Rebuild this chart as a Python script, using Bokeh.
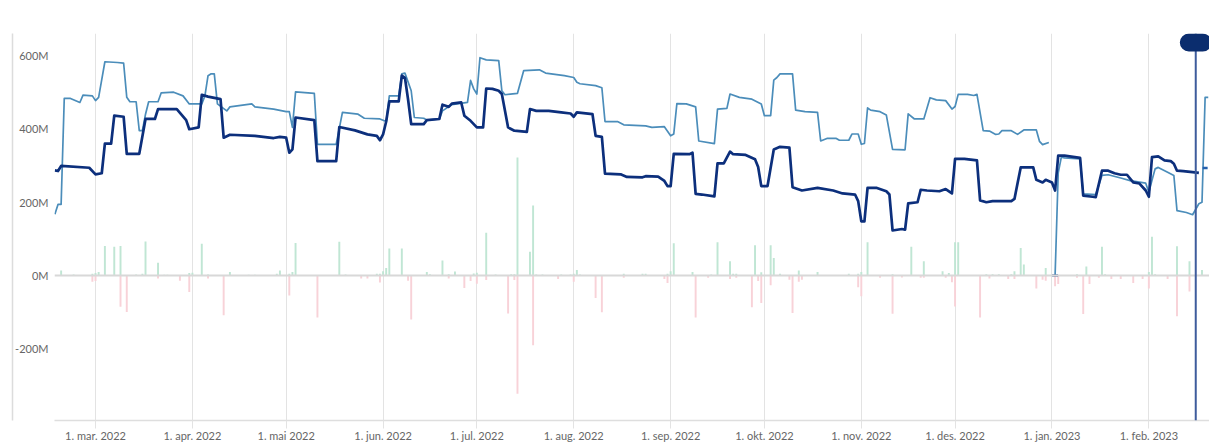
import numpy as np
import pandas as pd
from datetime import datetime, timedelta
from bokeh.plotting import figure
from bokeh.models import (Range1d, FixedTicker, PrintfTickFormatter, Span,
                          BoxAnnotation, ColumnDataSource, LinearAxis)
from bokeh.embed import file_html
from bokeh.resources import INLINE

# ---------------- data (values in millions) ----------------
month_dates = ["2022-03-01", "2022-04-01", "2022-05-01", "2022-06-01", "2022-07-01", "2022-08-01",
               "2022-09-01", "2022-10-01", "2022-11-01", "2022-12-01", "2023-01-01", "2023-02-01"]
month_labels = ["1. mar. 2022", "1. apr. 2022", "1. mai 2022", "1. jun. 2022", "1. jul. 2022",
                "1. aug. 2022", "1. sep. 2022", "1. okt. 2022", "1. nov. 2022", "1. des. 2022",
                "1. jan. 2023", "1. feb. 2023"]
y_ticks = [-200, 0, 200, 400, 600]

light_dates = [
    "2022-02-16", "2022-02-17", "2022-02-18", "2022-02-19", "2022-02-21", "2022-02-24", "2022-02-25", "2022-02-28",
    "2022-03-01", "2022-03-02", "2022-03-04", "2022-03-08", "2022-03-10", "2022-03-11", "2022-03-12", "2022-03-14",
    "2022-03-15", "2022-03-16", "2022-03-17", "2022-03-18", "2022-03-21", "2022-03-22", "2022-03-26", "2022-03-29", "2022-03-31",
    "2022-04-04", "2022-04-05", "2022-04-06", "2022-04-07", "2022-04-08", "2022-04-09", "2022-04-12", "2022-04-13",
    "2022-04-20", "2022-04-21", "2022-04-27",
    "2022-05-01", "2022-05-02", "2022-05-03", "2022-05-04", "2022-05-10", "2022-05-11", "2022-05-17", "2022-05-19",
    "2022-05-24", "2022-05-26", "2022-05-31",
    "2022-06-02", "2022-06-03", "2022-06-06", "2022-06-07", "2022-06-08", "2022-06-10", "2022-06-11", "2022-06-14",
    "2022-06-15", "2022-06-19", "2022-06-20", "2022-06-23", "2022-06-28", "2022-06-29", "2022-06-30",
    "2022-07-01", "2022-07-02", "2022-07-04", "2022-07-08", "2022-07-09", "2022-07-10", "2022-07-14", "2022-07-16",
    "2022-07-21", "2022-07-23", "2022-07-29",
    "2022-08-01", "2022-08-02", "2022-08-03", "2022-08-08", "2022-08-10", "2022-08-11", "2022-08-15", "2022-08-17",
    "2022-08-24", "2022-08-26", "2022-08-30",
    "2022-09-01", "2022-09-02", "2022-09-03", "2022-09-06", "2022-09-09", "2022-09-10", "2022-09-15", "2022-09-16",
    "2022-09-19", "2022-09-20", "2022-09-23", "2022-09-27", "2022-09-30",
    "2022-10-01", "2022-10-03", "2022-10-04", "2022-10-05", "2022-10-06", "2022-10-10", "2022-10-11", "2022-10-14",
    "2022-10-18", "2022-10-19", "2022-10-21", "2022-10-24", "2022-10-25", "2022-10-28", "2022-10-29", "2022-10-31",
    "2022-11-01", "2022-11-02", "2022-11-03", "2022-11-04", "2022-11-07", "2022-11-09", "2022-11-11", "2022-11-15",
    "2022-11-16", "2022-11-18", "2022-11-21", "2022-11-23", "2022-11-25", "2022-11-28", "2022-11-30",
    "2022-12-01", "2022-12-02", "2022-12-05", "2022-12-07", "2022-12-08", "2022-12-10", "2022-12-12", "2022-12-14",
    "2022-12-15", "2022-12-16", "2022-12-19", "2022-12-21", "2022-12-23", "2022-12-27", "2022-12-28", "2022-12-29", "2022-12-31",
    "2023-01-01",
    "2023-01-02", "2023-01-03", "2023-01-04", "2023-01-05", "2023-01-10", "2023-01-11", "2023-01-15", "2023-01-17",
    "2023-01-19", "2023-01-23", "2023-01-26", "2023-01-31",
    "2023-02-01", "2023-02-02", "2023-02-03", "2023-02-04", "2023-02-07", "2023-02-09", "2023-02-10", "2023-02-13",
    "2023-02-15", "2023-02-17", "2023-02-18", "2023-02-19", "2023-02-20"]
light_values = [
    167, 194, 194, 483, 483, 472, 492, 490,
    477, 486, 583, 581, 579, 486, 474, 474, 395, 395, 440, 474, 474, 498, 500, 490, 468,
    468, 490, 545, 550, 550, 468, 449, 460, 468, 460, 454,
    447, 447, 404, 501, 497, 358, 358, 445, 440, 429, 427,
    420, 490, 490, 550, 552, 504, 431, 429, 424, 427, 449, 466, 472, 532, 509,
    495, 594, 588, 586, 504, 493, 497, 559, 561, 552, 545,
    540, 527, 523, 518, 512, 420, 420, 411, 408, 404, 406,
    381, 386, 469, 468, 460, 367, 360, 454, 456, 495, 486, 481, 468,
    436, 436, 533, 540, 550, 550, 451, 447, 445, 367, 374, 374, 369, 369, 386, 386,
    358, 360, 457, 451, 447, 438, 344, 343, 441, 427, 427, 485, 479, 477, 454,
    461, 494, 494, 491, 494, 395, 394, 385, 386, 395, 395, 385, 397, 397, 366, 357, 363,
    np.nan,
    0, 280, 323, 321, 318, 223, 221, 273, 275, 266, 259, 252,
    227, 260, 291, 295, 282, 273, 177, 172, 166, 196, 200, 486, 486]

dark_dates = [
    "2022-02-16", "2022-02-17", "2022-02-18", "2022-02-27",
    "2022-03-01", "2022-03-03", "2022-03-04", "2022-03-06", "2022-03-07", "2022-03-10", "2022-03-11", "2022-03-15",
    "2022-03-17", "2022-03-20", "2022-03-21", "2022-03-27", "2022-03-30", "2022-03-31",
    "2022-04-03", "2022-04-04", "2022-04-06", "2022-04-10", "2022-04-11", "2022-04-13", "2022-04-21", "2022-04-27", "2022-04-29",
    "2022-05-01", "2022-05-02", "2022-05-03", "2022-05-04", "2022-05-10", "2022-05-11", "2022-05-17", "2022-05-18",
    "2022-05-23", "2022-05-27", "2022-05-30", "2022-05-31",
    "2022-06-01", "2022-06-02", "2022-06-03", "2022-06-06", "2022-06-07", "2022-06-08", "2022-06-09", "2022-06-10",
    "2022-06-14", "2022-06-15", "2022-06-19", "2022-06-20", "2022-06-21", "2022-06-22", "2022-06-23", "2022-06-26",
    "2022-06-27", "2022-06-29",
    "2022-07-01", "2022-07-03", "2022-07-04", "2022-07-06", "2022-07-08", "2022-07-09", "2022-07-11", "2022-07-13",
    "2022-07-17", "2022-07-18", "2022-07-20", "2022-07-24", "2022-07-28", "2022-07-31",
    "2022-08-01", "2022-08-02", "2022-08-07", "2022-08-08", "2022-08-10", "2022-08-11", "2022-08-16", "2022-08-18",
    "2022-08-23", "2022-08-24", "2022-08-28", "2022-08-30", "2022-08-31",
    "2022-09-01", "2022-09-02", "2022-09-07", "2022-09-08", "2022-09-09", "2022-09-11", "2022-09-15", "2022-09-16",
    "2022-09-18", "2022-09-20", "2022-09-21", "2022-09-25", "2022-09-28", "2022-09-29", "2022-09-30",
    "2022-10-02", "2022-10-04", "2022-10-06", "2022-10-09", "2022-10-10", "2022-10-13", "2022-10-18", "2022-10-23",
    "2022-10-26", "2022-10-30", "2022-10-31",
    "2022-11-01", "2022-11-02", "2022-11-03", "2022-11-06", "2022-11-09", "2022-11-10", "2022-11-11", "2022-11-14",
    "2022-11-15", "2022-11-16", "2022-11-19", "2022-11-20", "2022-11-22", "2022-11-26", "2022-11-28", "2022-11-30",
    "2022-12-01", "2022-12-04", "2022-12-08", "2022-12-09", "2022-12-11", "2022-12-13", "2022-12-19", "2022-12-20",
    "2022-12-22", "2022-12-26", "2022-12-27", "2022-12-29", "2022-12-30",
    "2023-01-01", "2023-01-02", "2023-01-03", "2023-01-05", "2023-01-10", "2023-01-11", "2023-01-14", "2023-01-15",
    "2023-01-17", "2023-01-19", "2023-01-21", "2023-01-23", "2023-01-25", "2023-01-27", "2023-01-29", "2023-01-31",
    "2023-02-01", "2023-02-02", "2023-02-04", "2023-02-06", "2023-02-08", "2023-02-09", "2023-02-10", "2023-02-12",
    "2023-02-15", "2023-02-17"]
dark_values = [
    287, 285, 299, 294,
    276, 279, 360, 360, 436, 433, 332, 332, 427, 427, 454, 454, 424, 399,
    404, 493, 488, 481, 376, 384, 381, 375, 378,
    376, 335, 344, 431, 424, 312, 312, 405, 396, 385, 381, 369,
    385, 420, 475, 475, 545, 539, 480, 413, 413, 424, 427, 466, 463, 460, 469, 472, 436, 422,
    404, 404, 510, 509, 504, 495, 404, 395, 392, 454, 449, 449, 445, 442,
    433, 445, 440, 381, 378, 278, 276, 269, 268, 271, 270, 258, 244,
    244, 332, 331, 335, 223, 221, 216, 306, 306, 338, 331, 329, 317, 296, 244,
    244, 344, 351, 349, 241, 232, 239, 232, 224, 221, 203,
    148, 148, 239, 239, 230, 221, 123, 127, 125, 197, 200, 234, 232, 230, 236, 224,
    318, 318, 314, 205, 200, 203, 203, 209, 295, 295, 261, 254, 261,
    254, 232, 327, 327, 321, 218, 215, 214, 286, 286, 279, 275, 275, 254, 251, 232,
    215, 323, 325, 314, 312, 305, 286, 285, 282, 280]

inflow_dates = [
    "2022-02-18", "2022-02-22", "2022-02-28", "2022-03-01", "2022-03-02", "2022-03-04", "2022-03-07", "2022-03-09",
    "2022-03-14", "2022-03-16", "2022-03-17", "2022-03-21", "2022-03-23", "2022-03-24", "2022-03-31", "2022-04-01",
    "2022-04-04", "2022-04-06", "2022-04-13", "2022-04-19", "2022-04-21", "2022-04-28", "2022-04-29", "2022-05-02",
    "2022-05-03", "2022-05-04", "2022-05-18", "2022-05-20", "2022-05-30", "2022-05-31", "2022-06-01", "2022-06-02",
    "2022-06-03", "2022-06-07", "2022-06-15", "2022-06-16", "2022-06-20", "2022-06-22", "2022-06-24", "2022-06-30",
    "2022-07-01", "2022-07-04", "2022-07-07", "2022-07-12", "2022-07-13", "2022-07-14", "2022-07-18", "2022-07-19",
    "2022-07-20", "2022-07-22", "2022-07-28", "2022-07-31", "2022-08-01", "2022-08-02", "2022-08-03", "2022-08-17",
    "2022-08-23", "2022-08-24", "2022-08-31", "2022-09-01", "2022-09-02", "2022-09-08", "2022-09-14", "2022-09-16",
    "2022-09-20", "2022-09-21", "2022-09-22", "2022-09-28", "2022-09-30", "2022-10-03", "2022-10-04", "2022-10-06",
    "2022-10-12", "2022-10-18", "2022-10-28", "2022-10-31", "2022-11-01", "2022-11-03", "2022-11-11", "2022-11-17",
    "2022-11-21", "2022-11-27", "2022-11-29", "2022-12-01", "2022-12-02", "2022-12-11", "2022-12-13", "2022-12-15",
    "2022-12-19", "2022-12-20", "2022-12-22", "2022-12-23", "2022-12-30", "2023-01-09", "2023-01-12", "2023-01-17",
    "2023-01-18", "2023-02-01", "2023-02-02", "2023-02-03", "2023-02-10", "2023-02-14", "2023-02-18"]
inflow_values = [
    14, 3, 5, 7, 10, 81, 79, 81,
    3, 5, 93, 35, 2, 2, 7, 8,
    87, 3, 10, 2, 2, 5, 14, 5,
    10, 89, 92, 3, 5, 5, 12, 21,
    74, 74, 10, 4, 41, 4, 11, 6,
    8, 117, 3, 4, 4, 322, 65, 191,
    3, 3, 3, 3, 5, 15, 3, 5,
    5, 5, 5, 12, 88, 10, 3, 91,
    39, 5, 5, 83, 9, 83, 48, 5,
    14, 10, 5, 5, 10, 91, 4, 79,
    39, 12, 7, 91, 91, 4, 4, 4,
    4, 12, 75, 30, 21, 4, 25, 79,
    4, 10, 106, 4, 80, 39, 15]

outflow_dates = [
    "2022-02-28", "2022-03-01", "2022-03-09", "2022-03-11", "2022-03-21", "2022-03-28", "2022-03-31", "2022-04-06",
    "2022-04-11", "2022-05-02", "2022-05-11", "2022-05-25", "2022-05-27", "2022-05-31", "2022-06-09", "2022-06-10",
    "2022-06-22", "2022-06-27", "2022-06-29", "2022-07-01", "2022-07-04", "2022-07-11", "2022-07-13", "2022-07-14",
    "2022-07-19", "2022-07-27", "2022-08-01", "2022-08-08", "2022-08-10", "2022-08-17", "2022-08-30", "2022-08-31",
    "2022-09-09", "2022-09-13", "2022-09-20", "2022-09-22", "2022-09-27", "2022-09-29", "2022-09-30", "2022-10-03",
    "2022-10-09", "2022-10-10", "2022-10-12", "2022-10-13", "2022-10-31", "2022-11-01", "2022-11-07", "2022-11-11",
    "2022-11-14", "2022-11-20", "2022-11-21", "2022-11-28", "2022-11-30", "2022-12-01", "2022-12-09", "2022-12-12",
    "2022-12-18", "2022-12-20", "2022-12-27", "2022-12-29", "2022-12-30", "2023-01-02", "2023-01-03", "2023-01-09",
    "2023-01-11", "2023-01-13", "2023-01-16", "2023-01-20", "2023-01-23", "2023-01-27", "2023-01-30", "2023-02-01",
    "2023-02-07", "2023-02-10", "2023-02-14"]
outflow_values = [
    -17, -15, -85, -99, -8, -14, -45, -8,
    -108, -54, -114, -8, -8, -19, -14, -120,
    -8, -34, -15, -22, -12, -103, -12, -322,
    -190, -9, -17, -61, -100, -6, -9, -20,
    -114, -6, -9, -6, -86, -15, -75, -26,
    -11, -102, -17, -11, -32, -56, -6, -104,
    -5, -6, -6, -6, -18, -84, -114, -8,
    -9, -9, -35, -11, -14, -29, -23, -6,
    -105, -23, -6, -9, -9, -20, -9, -35,
    -9, -111, -43]

zero_mark_dates = ["2023-01-02"]
zero_mark_values = [0]
end_mark_dates = ["2023-02-19"]
end_mark_values = [293]
cursor_date = "2023-02-16"

assert len(light_dates) == len(light_values)
assert len(dark_dates) == len(dark_values)
assert len(inflow_dates) == len(inflow_values)
assert len(outflow_dates) == len(outflow_values)

# ---------------- figure ----------------
FONT = "Lato"
DAY_MS = 86400000.0
ref = datetime(2022, 3, 1)
x_start = ref - timedelta(days=13.12)
x_end = ref + timedelta(days=356.4)

p = figure(width=1209, height=448, x_axis_type="datetime",
           output_backend="svg", toolbar_location=None,
           x_range=Range1d(x_start, x_end), y_range=Range1d(-395, 660),
           min_border_left=54, min_border_right=0, min_border_top=33, min_border_bottom=28)
p.outline_line_color = None
p.background_fill_color = "white"
p.border_fill_color = "white"

month_ms = [float(pd.Timestamp(d).value // 10**6) for d in month_dates]

p.ygrid.visible = False
p.xgrid.ticker = FixedTicker(ticks=month_ms)
p.xgrid.grid_line_color = "#e3e3e3"
p.xgrid.grid_line_width = 1

xa = p.xaxis[0]
xa.ticker = FixedTicker(ticks=month_ms)
xa.major_label_overrides = {m: lab for m, lab in zip(month_ms, month_labels)}
xa.axis_line_color = "#dedede"
xa.axis_line_width = 1.5
xa.major_tick_line_color = "#e3e3e3"
xa.major_tick_in = 0
xa.major_tick_out = 8
xa.minor_tick_line_color = None
xa.major_label_standoff = 0
xa.major_label_text_font = FONT
xa.major_label_text_font_size = "11px"
xa.major_label_text_color = "#666666"

ya = p.yaxis[0]
ya.ticker = FixedTicker(ticks=y_ticks)
ya.formatter = PrintfTickFormatter(format="%dM")
ya.axis_line_color = None
ya.major_tick_line_color = None
ya.minor_tick_line_color = None
ya.major_tick_in = 0
ya.major_tick_out = 0
ya.major_label_standoff = 6
ya.major_label_text_font = FONT
ya.major_label_text_font_size = "11px"
ya.major_label_text_color = "#666666"

# spacer axis + outer axis whose line draws the thin container border at the far left
spacer = LinearAxis(ticker=FixedTicker(ticks=[]), axis_line_color=None,
                    major_tick_line_color=None, minor_tick_line_color=None,
                    major_tick_in=0, major_tick_out=4, minor_tick_out=0,
                    major_label_standoff=0)
border_axis = LinearAxis(ticker=FixedTicker(ticks=[]), axis_line_color="#dcdcdc",
                         axis_line_width=1.5, major_tick_line_color=None,
                         minor_tick_line_color=None, major_tick_in=0, major_tick_out=0,
                         minor_tick_out=0, major_label_standoff=0)
p.add_layout(spacer, "left")
p.add_layout(border_axis, "left")

# bars
bar_w = 0.62 * DAY_MS
src_in = ColumnDataSource(dict(x=pd.to_datetime(inflow_dates), top=inflow_values))
src_out = ColumnDataSource(dict(x=pd.to_datetime(outflow_dates), top=outflow_values))
p.vbar(x="x", top="top", bottom=0, width=bar_w, source=src_in,
       fill_color="#c0e6d4", line_color=None)
p.vbar(x="x", top="top", bottom=0, width=bar_w, source=src_out,
       fill_color="#f8d2d8", line_color=None)

# zero line
p.add_layout(Span(location=0, dimension="width", line_color="#d8d8d8", line_width=2))

# lines
src_light = ColumnDataSource(dict(x=pd.to_datetime(light_dates), y=np.array(light_values, dtype=float)))
src_dark = ColumnDataSource(dict(x=pd.to_datetime(dark_dates), y=np.array(dark_values, dtype=float)))
p.line("x", "y", source=src_light, line_color="#4b8dba", line_width=1.7, line_join="round")
p.line("x", "y", source=src_dark, line_color="#0c2f7c", line_width=2.7, line_join="round")

p.scatter(x=pd.to_datetime(zero_mark_dates), y=zero_mark_values, marker="dash", size=6,
          line_color="#0c2f7c", line_width=2)
p.scatter(x=pd.to_datetime(end_mark_dates), y=end_mark_values, marker="dash", size=5,
          line_color="#2560ad", line_width=2.5)

# cursor line + handle
cur = pd.Timestamp(cursor_date)
cur_ms = float(cur.value // 10**6)
p.add_layout(Span(location=cur_ms, dimension="height", line_color="#3e5c9c", line_width=2))
p.add_layout(BoxAnnotation(left=cur_ms - 5.1 * DAY_MS, right=cur_ms + 5.1 * DAY_MS,
                           top=660, bottom=611, fill_color="#0b2d6e", fill_alpha=1,
                           line_color=None, border_radius=9))

open("out.html", "w").write(file_html(p, INLINE))
